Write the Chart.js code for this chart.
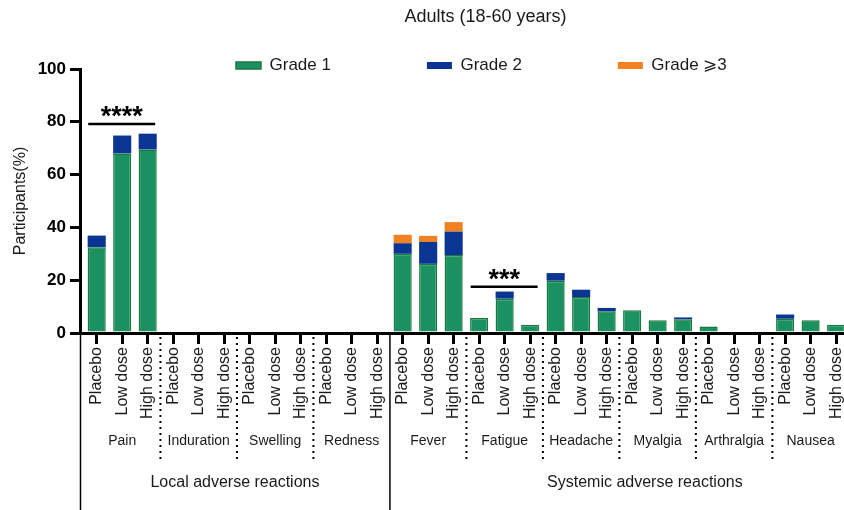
<!DOCTYPE html>
<html><head><meta charset="utf-8">
<script src="https://cdn.jsdelivr.net/npm/chart.js@4/dist/chart.umd.min.js"></script>
<style>html,body{margin:0;padding:0;background:#fff;overflow:hidden;width:844px;height:510px}
#wrap{width:971px;height:510px}</style></head>
<body><div id="wrap"><canvas id="c" width="971" height="510"></canvas></div>
<script>
const titleText = 'Adults (18-60 years)';
const groups = ['Pain', 'Induration', 'Swelling', 'Redness', 'Fever', 'Fatigue', 'Headache', 'Myalgia', 'Arthralgia', 'Nausea'];
const doses = ['Placebo', 'Low dose', 'High dose'];
const sections = ['Local adverse reactions', 'Systemic adverse reactions'];
const seriesNames = ['Grade 1', 'Grade 2', 'Grade \u2A7E3'];
const grade1 = [32.5, 68, 69.5, 0, 0, 0, 0, 0, 0, 0, 0, 0, 30, 26.2, 29.5, 5.7, 13, 3.1, 19.8, 13.6, 8.2, 8.6, 4.8, 5.2, 2.5, 0, 0, 5.4, 4.8, 3.1];
const grade2 = [4.4, 6.8, 6, 0, 0, 0, 0, 0, 0, 0, 0, 0, 4, 8.3, 8.9, 0, 2.7, 0, 2.9, 2.8, 1.3, 0, 0, 0.7, 0, 0, 0, 1.6, 0, 0];
const grade3 = [0, 0, 0, 0, 0, 0, 0, 0, 0, 0, 0, 0, 3.2, 2.3, 3.6, 0, 0, 0, 0, 0, 0, 0, 0, 0, 0, 0, 0, 0, 0, 0];
const yTicks = [0, 20, 40, 60, 80, 100];
const sigFrom = [0, 15];
const sigTo = [2, 17];
const sigLevel = [79.2, 17.5];
const sigLabel = ['****', '***'];

const xLabels = groups.flatMap(() => doses);
const FONT = "'Liberation Sans', Arial, Helvetica, sans-serif";
const INK = '#1a1a1a';
Chart.defaults.font.family = FONT;
Chart.defaults.color = INK;

const toPts = arr => arr.map((v, i) => ({x: i, y: v}));

const annot = {
  id: 'annot',
  afterLayout(chart) {
    const lg = chart.legend;
    if (!lg) return;
    const p = lg.options.labels.padding;
    const fs = lg.options.labels.font.size;
    const w = lg.width, h = lg.height;
    lg.left = 236 - p; lg.right = lg.left + w;
    lg.top = 65.5 - p - fs / 2; lg.bottom = lg.top + h;
  },
  afterDraw(chart) {
    const ctx = chart.ctx, xs = chart.scales.x, ys = chart.scales.y, a = chart.chartArea;
    const bottom = chart.height;
    ctx.save();
    ctx.strokeStyle = '#000';
    ctx.lineWidth = 1.5;
    ctx.beginPath(); ctx.moveTo(a.left + 0.5, a.bottom); ctx.lineTo(a.left + 0.5, bottom); ctx.stroke();
    let sepX = 0;
    for (let g = 0; g < groups.length - 1; g++) {
      const x = xs.getPixelForValue(3 * g + 2.5);
      ctx.beginPath();
      if (g === 3) {
        sepX = x;
        ctx.setLineDash([]); ctx.lineWidth = 1.5;
        ctx.moveTo(x, a.bottom + 2); ctx.lineTo(x, bottom);
      } else {
        ctx.setLineDash([2, 4]); ctx.lineWidth = 2;
        ctx.moveTo(x, a.bottom + 4); ctx.lineTo(x, 460);
      }
      ctx.stroke();
    }
    ctx.setLineDash([]);
    ctx.fillStyle = INK;
    ctx.textAlign = 'center'; ctx.textBaseline = 'middle';
    ctx.font = '14px ' + FONT;
    groups.forEach((g, i) => ctx.fillText(g, xs.getPixelForValue(3 * i + 1), 441));
    ctx.font = '16px ' + FONT;
    ctx.fillText(sections[0], (a.left + sepX) / 2, 483);
    ctx.fillText(sections[1], xs.getPixelForValue(21.5), 483);
    ctx.lineWidth = 2.5; ctx.strokeStyle = '#000'; ctx.fillStyle = '#000';
    ctx.font = 'bold 27px ' + FONT; ctx.textBaseline = 'alphabetic';
    sigFrom.forEach((f, k) => {
      const x1 = xs.getPixelForValue(f) - 8.5, x2 = xs.getPixelForValue(sigTo[k]) + 7.5;
      const y = ys.getPixelForValue(sigLevel[k]);
      ctx.beginPath(); ctx.moveTo(x1, y); ctx.lineTo(x2, y); ctx.stroke();
      ctx.fillText(sigLabel[k], (x1 + x2) / 2, y + 1);
    });
    ctx.restore();
  }
};

new Chart(document.getElementById('c'), {
  type: 'bar',
  data: {
    datasets: [
      {label: seriesNames[0], data: toPts(grade1), backgroundColor: '#1b9161', borderColor: '#177a3d', borderWidth: 1.5, stack: 's'},
      {label: seriesNames[1], data: toPts(grade2), backgroundColor: '#0b3592', borderColor: '#0b3592', borderWidth: 0, stack: 's'},
      {label: seriesNames[2], data: toPts(grade3), backgroundColor: '#f28122', borderColor: '#f28122', borderWidth: 0, stack: 's'}
    ]
  },
  options: {
    responsive: false,
    animation: false,
    devicePixelRatio: 1,
    layout: {padding: 0},
    datasets: {bar: {barPercentage: 0.71, categoryPercentage: 1}},
    plugins: {
      tooltip: {enabled: false},
      title: {display: true, text: titleText, color: INK, font: {size: 18, weight: 'normal'}, padding: {top: 6.7, bottom: 40.7}},
      legend: {
        display: true, position: 'chartArea', align: 'start',
        labels: {boxWidth: 25, boxHeight: 7, padding: 96, color: INK, font: {size: 17}}
      }
    },
    scales: {
      x: {
        type: 'linear', min: -0.655, max: 34.29, offset: false,
        afterBuildTicks: s => { s.ticks = xLabels.map((_, i) => ({value: i})); },
        afterFit: s => { s.height = 177; },
        grid: {display: true, drawOnChartArea: false, drawTicks: true, tickLength: 11, lineWidth: 3, color: '#000', offset: false},
        border: {display: true, width: 3, color: '#000'},
        ticks: {autoSkip: false, minRotation: 90, maxRotation: 90, padding: 3, color: INK, font: {size: 16},
          callback: v => xLabels[v]}
      },
      y: {
        min: 0, max: 100, stacked: true,
        afterBuildTicks: s => { s.ticks = yTicks.map(v => ({value: v})); },
        afterFit: s => { s.width = 80; },
        grid: {display: true, drawOnChartArea: false, drawTicks: true, tickLength: 10, lineWidth: 3, color: '#000'},
        border: {display: true, width: 3, color: '#000'},
        ticks: {padding: 4, color: '#000', font: {size: 17, weight: 'bold'}},
        title: {display: true, text: 'Participants(%)', color: INK, font: {size: 16}, padding: {top: 11, bottom: 0}}
      }
    }
  },
  plugins: [annot]
});
</script>
</body></html>
